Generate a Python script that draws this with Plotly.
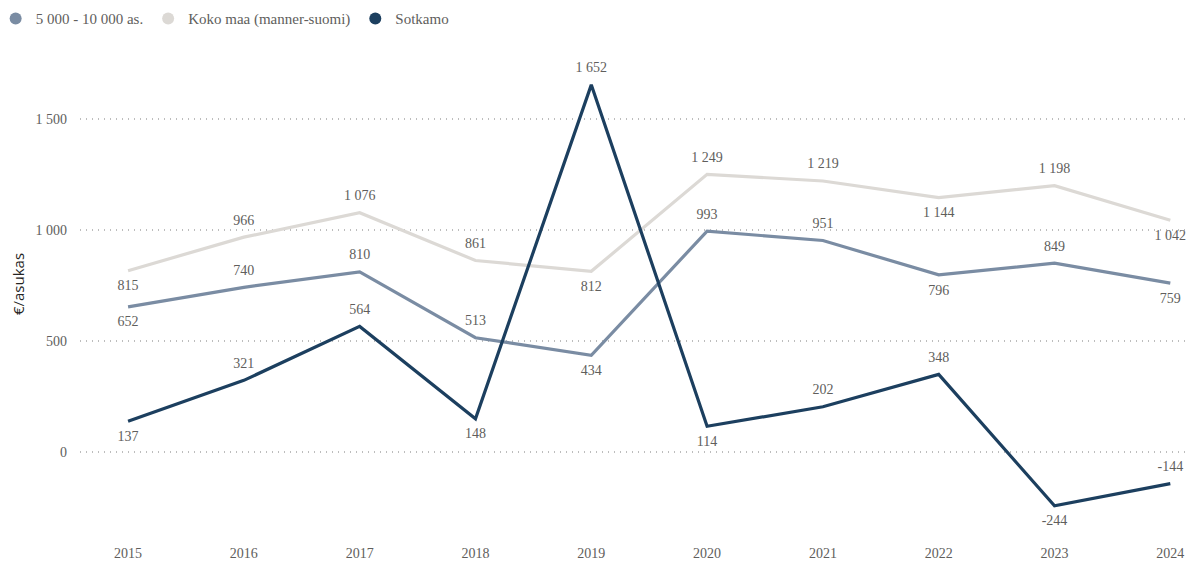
import plotly.graph_objects as go

years = [2015, 2016, 2017, 2018, 2019, 2020, 2021, 2022, 2023, 2024]
group_5000_10000 = [652, 740, 810, 513, 434, 993, 951, 796, 849, 759]
koko_maa = [815, 966, 1076, 861, 812, 1249, 1219, 1144, 1198, 1042]
sotkamo = [137, 321, 564, 148, 1652, 114, 202, 348, -244, -144]

pos_5000 = ["bottom", "top", "top", "top", "bottom", "top", "top", "bottom", "top", "bottom"]
pos_koko = ["bottom", "top", "top", "top", "bottom", "top", "top", "bottom", "top", "bottom"]
pos_sotk = ["bottom", "top", "top", "bottom", "top", "bottom", "top", "top", "bottom", "top"]

names = ["5 000 - 10 000 as.", "Koko maa (manner-suomi)", "Sotkamo"]
colors = ["#7A8CA3", "#DCD9D5", "#1C3F5F"]

def fmt(v):
    s = f"{abs(v):,}".replace(",", " ")
    return ("-" if v < 0 else "") + s

serif = "Liberation Serif, Times New Roman, serif"
txtcol = "#605E5C"
fig = go.Figure()

series = [(group_5000_10000, pos_5000), (koko_maa, pos_koko), (sotkamo, pos_sotk)]
for (vals, pos), name, col in zip(series, names, colors):
    fig.add_trace(go.Scatter(
        x=years, y=vals, mode="lines+markers+text", name=name,
        line=dict(color=col, width=3.2),
        marker=dict(size=13, color="rgba(0,0,0,0)"),
        text=[fmt(v) for v in vals],
        textposition=[p + " center" for p in pos],
        textfont=dict(family=serif, size=14, color=txtcol),
        showlegend=False, cliponaxis=False, hoverinfo="x+y",
    ))

for name, col in zip(names, colors):
    fig.add_trace(go.Scatter(
        x=[None], y=[None], mode="markers", name=name,
        marker=dict(color=col, size=12, symbol="circle"),
        showlegend=True,
    ))

fig.update_layout(
    width=1194, height=563,
    paper_bgcolor="white", plot_bgcolor="white",
    margin=dict(l=80, r=4, t=52, b=47, autoexpand=False),
    showlegend=True,
    legend=dict(orientation="h", xref="paper", yref="container",
                x=-0.076, y=0.996, xanchor="left", yanchor="top",
                font=dict(family=serif, size=15, color=txtcol),
                itemwidth=30, tracegroupgap=0,
                bgcolor="rgba(0,0,0,0)"),
    xaxis=dict(range=[2014.585, 2024.17], tickmode="array", tickvals=years,
               ticktext=[str(y) for y in years], showgrid=False, zeroline=False,
               showline=False, ticks="", automargin=False,
               tickfont=dict(family=serif, size=14, color=txtcol),
               ticklabelstandoff=27),
    yaxis=dict(range=[-290, 1800], tickvals=[0, 500, 1000, 1500],
               ticktext=["0", "500", "1 000", "1 500"],
               showgrid=True, gridcolor="#BDBDBD", griddash="1px,5px", gridwidth=1.5,
               zeroline=False, showline=False, ticks="", automargin=False,
               tickfont=dict(family=serif, size=14, color=txtcol),
               ticklabelstandoff=12,
               title=dict(text="€/asukas", font=dict(family="Open Sans, DejaVu Sans, sans-serif", size=15, color="#252423"),
                          standoff=7)),
)

fig.write_html("out.html", config={"displayModeBar": False},
               post_script="document.body.style.margin='0';document.body.style.overflow='hidden';")
